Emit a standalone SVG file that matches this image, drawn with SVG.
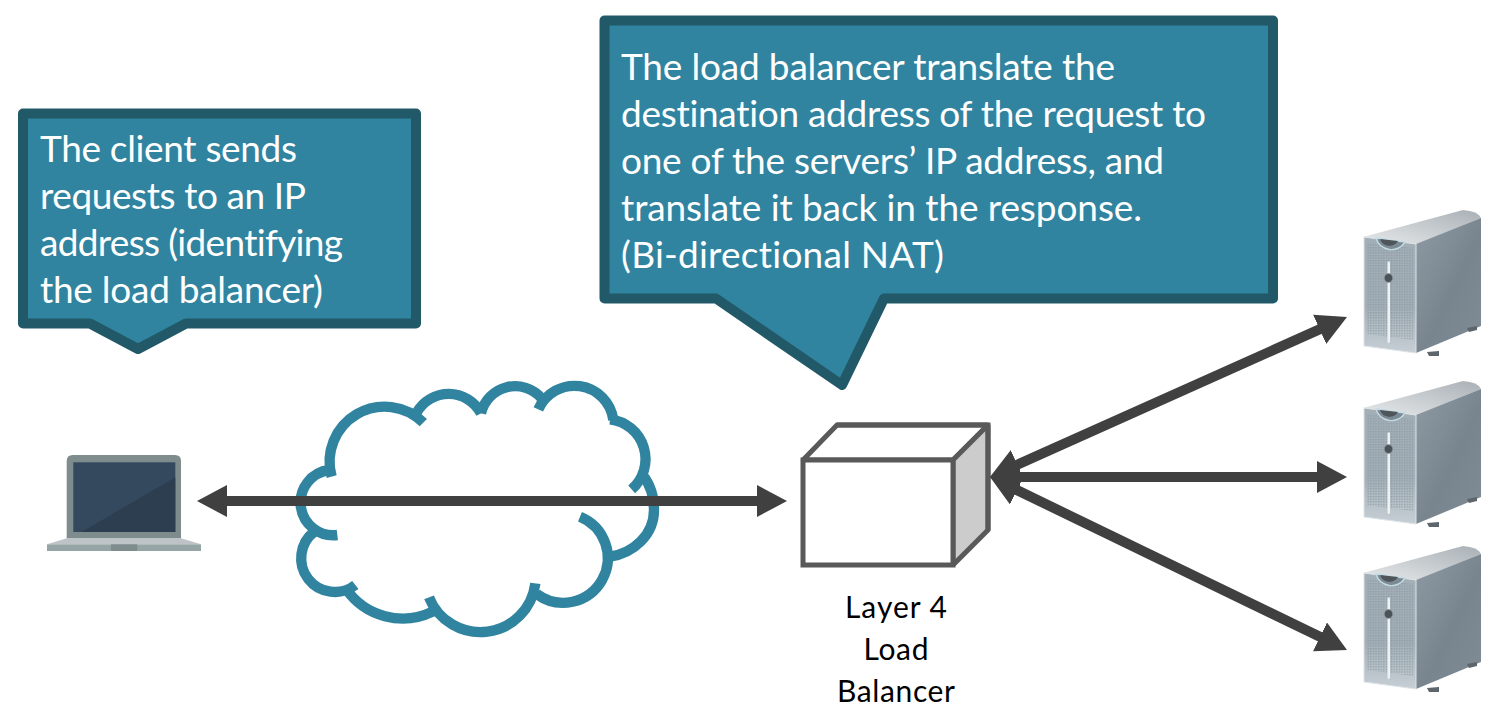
<svg xmlns="http://www.w3.org/2000/svg" width="1507" height="715" viewBox="0 0 1507 715">
<style>
.callout{fill:#31849f;stroke:#215968;stroke-width:10;stroke-linejoin:round}
.ct{font-family:"Lato","Noto Sans",sans-serif;font-size:37px;fill:#fff;font-variant-ligatures:none}
.lb{font-family:"Lato","Noto Sans",sans-serif;font-size:30px;fill:#000;text-anchor:middle}
.arc{fill:none;stroke:#31849f;stroke-width:31}
.arw{fill:none;stroke:#404040;stroke-width:10;marker-start:url(#head);marker-end:url(#head)}
.box{stroke:#595959;stroke-width:5;stroke-linejoin:miter;stroke-miterlimit:2}
</style>
<defs>
<marker id="head" markerUnits="userSpaceOnUse" markerWidth="30" markerHeight="32" viewBox="0 0 30 32" refX="20" refY="16" orient="auto-start-reverse"><path d="M0,0 L30,16 L0,32 Z" fill="#404040"/></marker>
<linearGradient id="sFront" x1="0" y1="0" x2="0" y2="1"><stop offset="0" stop-color="#a3afb7"/><stop offset="0.6" stop-color="#a3afb7"/><stop offset="1" stop-color="#c6cfd5"/></linearGradient>
<linearGradient id="sSide" x1="0" y1="0" x2="1" y2="1"><stop offset="0" stop-color="#8f9aa3"/><stop offset="0.55" stop-color="#78858f"/><stop offset="1" stop-color="#7f8c95"/></linearGradient>
<linearGradient id="sTop" x1="0" y1="1" x2="1" y2="0"><stop offset="0" stop-color="#e6e9eb"/><stop offset="1" stop-color="#a9b0b5"/></linearGradient>
<pattern id="dots" width="2.6" height="2.6" patternUnits="userSpaceOnUse"><rect width="1.3" height="1.3" fill="#86939c" opacity="0.8"/></pattern>
<g id="srv">
<path d="M1363,237 L1463,210 Q1478,211 1481,218 L1417,244 Z" fill="url(#sTop)"/>
<path d="M1416,244 L1481,218 L1481,326 L1416,353 Z" fill="url(#sSide)"/>
<path d="M1364,237 L1416,244 L1416,353 L1364,346 Z" fill="url(#sFront)" stroke="#dfe4e7" stroke-width="1"/>
<path d="M1367,243 L1413,248 L1413,340 L1367,334 Z" fill="url(#dots)"/>
<path d="M1376,238 A16,16 0 0 0 1405,242 Z" fill="#7b8a94" stroke="#c5dbe3" stroke-width="1.5"/>
<path d="M1380,239 A10,10 0 0 0 1398,241 Z" fill="#4f555a"/>
<path d="M1387.500,262 Q1390,260 1390,263 L1390,342 Q1388,344 1387.500,342 Z" fill="#eef2f4"/>
<circle cx="1388.500" cy="278" r="4.500" fill="#4b5258" stroke="#9aa5ad" stroke-width="1"/>
<path d="M1427,352 L1439,351 L1439,356 L1429,356 Z" fill="#5d666d"/>
<path d="M1467,328 L1477,326 L1477,330 L1469,332 Z" fill="#5d666d"/>
</g>
</defs>
<rect width="1507" height="715" fill="#fff"/>

<g id="cloud" transform="translate(280,370) scale(0.33333)">
<path class="arc" d="M155,320 A165,165 0 0 1 430,158"/>
<path class="arc" d="M410,128 A110,110 0 0 1 603,130"/>
<path class="arc" d="M603,130 A105,105 0 0 1 785,85"/>
<path class="arc" d="M775,118 A118,118 0 0 1 1000,150"/>
<path class="arc" d="M990,148 A120,120 0 0 1 1055,358"/>
<path class="arc" d="M1088,315 C1112,345 1122,385 1122,420 C1122,495 1060,550 990,560"/>
<path class="arc" d="M900,440 A134,134 0 1 1 770,672"/>
<path class="arc" d="M766,640 A166,166 0 0 1 447,682"/>
<path class="arc" d="M458,725 A207,207 0 0 1 197,655"/>
<path class="arc" d="M226,645 A97,97 0 0 1 103,485"/>
<path class="arc" d="M172,495 A98,98 0 1 1 148,300"/>
</g>

<g id="laptop">
<path d="M66.700,538.500 V461 Q66.700,455 72.700,455 H175 Q181,455 181,461 V538.500 Z" fill="#7f8c8d"/>
<rect x="73.300" y="462.300" width="102" height="69.700" fill="#34495e"/>
<path d="M81.700,532 L175.300,477.300 V532 Z" fill="#2c3e50"/>
<path d="M66.700,538.300 H181 L201,544.300 H47 Z" fill="#bdc3c7"/>
<rect x="47" y="544.300" width="154" height="6.700" fill="#95a5a6"/>
<rect x="111" y="544.300" width="26.300" height="6.700" fill="#7f8c8d"/>
</g>

<g id="load-balancer">
<path class="box" d="M803,460 L837,425 H988 L953,460 Z" fill="#fff"/>
<path class="box" d="M953,460 L988,425 V530 L953,565 Z" fill="#ccc"/>
<rect class="box" x="803" y="460" width="150" height="105" fill="#fff"/>
<path class="box" d="M837,425 H988 V530" fill="none"/>
<text class="lb" x="896" y="618" textLength="102">Layer 4</text>
<text class="lb" x="896" y="660" textLength="65">Load</text>
<text class="lb" x="896" y="702" textLength="118">Balancer</text>
</g>

<g id="server-1"><use href="#srv"/></g>
<g id="server-2"><use href="#srv" y="171"/></g>
<g id="server-3"><use href="#srv" y="336"/></g>

<g id="connectors">
<line class="arw" x1="207" y1="501" x2="777" y2="501"/>
<line class="arw" x1="999.100" y1="472.900" x2="1337.900" y2="321.100"/>
<line class="arw" x1="1000" y1="477" x2="1337" y2="477"/>
<line class="arw" x1="999" y1="481.400" x2="1338" y2="645.600"/>
</g>

<g id="callout-client">
<path class="callout" d="M23,113.500 H416 V323.500 H186 L138,349 L90,323.500 H23 Z"/>
<text class="ct" x="40" y="162" textLength="257">The client sends</text>
<text class="ct" x="40" y="209" textLength="266">requests to an IP</text>
<text class="ct" x="40" y="256" textLength="303">address (identifying</text>
<text class="ct" x="40" y="303" textLength="283">the load balancer)</text>
</g>

<g id="callout-lb">
<path class="callout" d="M604.500,20.500 H1273 V298.500 H884 L842,385 L716,298.500 H604.500 Z"/>
<text class="ct" x="621" y="80" textLength="494">The load balancer translate the</text>
<text class="ct" x="621" y="127" textLength="585">destination address of the request to</text>
<text class="ct" x="621" y="174" textLength="543">one of the servers’ IP address, and</text>
<text class="ct" x="621" y="221" textLength="521">translate it back in the response.</text>
<text class="ct" x="621" y="268" textLength="323">(Bi-directional NAT)</text>
</g>
</svg>
